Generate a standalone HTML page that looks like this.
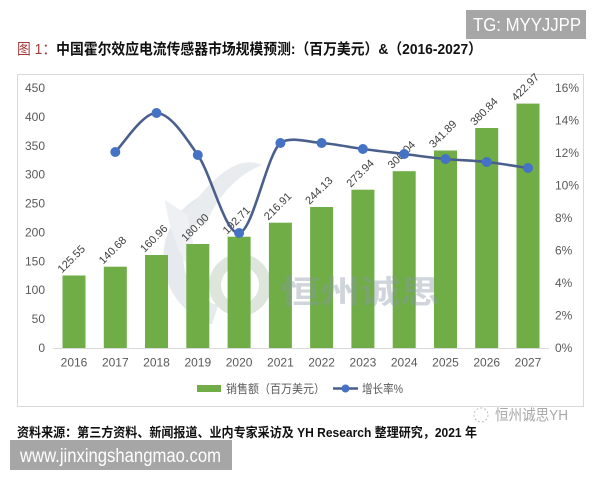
<!DOCTYPE html>
<html><head><meta charset="utf-8">
<style>
html,body{margin:0;padding:0;background:#fff;}
svg{display:block;}
text{font-family:"Liberation Sans","Noto Sans CJK SC",sans-serif;}
</style></head>
<body>
<svg width="600" height="480" viewBox="0 0 600 480" xmlns="http://www.w3.org/2000/svg">
<rect x="0" y="0" width="600" height="480" fill="#fff"/>
<!-- TG box -->
<rect x="466" y="10" width="120" height="29" fill="#a6a6a6"/>
<text x="473" y="31" font-size="18" fill="#fff" textLength="108" lengthAdjust="spacingAndGlyphs">TG: MYYJJPP</text>
<!-- Title -->
<text x="17" y="54" font-size="15" font-weight="bold" textLength="465" lengthAdjust="spacingAndGlyphs"><tspan fill="#a33a3a" font-weight="normal">图 1：</tspan><tspan fill="#111">中国霍尔效应电流传感器市场规模预测:（百万美元）&amp;（2016-2027）</tspan></text>
<!-- chart frame -->
<rect x="17.5" y="74.5" width="566" height="332" fill="#fff" stroke="#d9d9d9" stroke-width="1"/>

<!-- watermark logo -->
<g opacity="0.35">
<path d="M 205 205 A 60 60 0 0 0 215 315" fill="none" stroke="#b8c1cc" stroke-width="20"/>
<path d="M 185 215 Q 230 150 262 165 Q 225 180 205 225 Z" fill="#c3cad4"/>
<path d="M 165 200 Q 172 255 212 300 Q 192 250 188 215 Z" fill="#cfd5dd"/>
<circle cx="240" cy="285" r="25" fill="none" stroke="#9fb7a0" stroke-width="12"/>
</g>

<!-- axis line -->
<line x1="53" y1="348.5" x2="549" y2="348.5" stroke="#d9d9d9" stroke-width="1"/>

<!-- bars -->
<g fill="#70ad47">
<rect x="62.5" y="275.5" width="23" height="72.5"/>
<rect x="103.8" y="266.7" width="23" height="81.3"/>
<rect x="145" y="255" width="23" height="93"/>
<rect x="186.3" y="244" width="23" height="104"/>
<rect x="227.6" y="236.7" width="23" height="111.3"/>
<rect x="268.9" y="222.7" width="23" height="125.3"/>
<rect x="310.1" y="207" width="23" height="141"/>
<rect x="351.4" y="189.7" width="23" height="158.3"/>
<rect x="392.7" y="171.2" width="23" height="176.8"/>
<rect x="434" y="150.5" width="23" height="197.5"/>
<rect x="475.2" y="128" width="23" height="220"/>
<rect x="516.5" y="103.6" width="23" height="244.4"/>
</g>

<!-- watermark text -->
<text x="280" y="303" font-size="32" font-weight="bold" fill="#8a98a6" opacity="0.4" textLength="160" lengthAdjust="spacingAndGlyphs">恒州诚思</text>

<!-- data labels -->
<g font-size="11" fill="#404040">
<text x="62" y="273.5" transform="rotate(-45 62 273.5)">125.55</text>
<text x="103.3" y="264.7" transform="rotate(-45 103.3 264.7)">140.68</text>
<text x="144.5" y="253" transform="rotate(-45 144.5 253)">160.96</text>
<text x="185.8" y="242" transform="rotate(-45 185.8 242)">180.00</text>
<text x="227.1" y="234.7" transform="rotate(-45 227.1 234.7)">192.71</text>
<text x="268.4" y="220.7" transform="rotate(-45 268.4 220.7)">216.91</text>
<text x="309.6" y="205" transform="rotate(-45 309.6 205)">244.13</text>
<text x="350.9" y="187.7" transform="rotate(-45 350.9 187.7)">273.94</text>
<text x="392.2" y="169.2" transform="rotate(-45 392.2 169.2)">306.04</text>
<text x="433.5" y="148.5" transform="rotate(-45 433.5 148.5)">341.89</text>
<text x="474.7" y="126" transform="rotate(-45 474.7 126)">380.84</text>
<text x="516" y="101.6" transform="rotate(-45 516 101.6)">422.97</text>
</g>

<!-- line -->
<path d="M115.3 152 C122.2 145.5 142.75 112.5 156.5 113 C170.25 113.5 184.03 135 197.8 155 C211.57 175 225.33 235 239.1 233 C252.87 231 266.65 155 280.4 143 C290 136 307.85 142 321.6 143 C335.35 144 349.13 147.17 362.9 149 C376.67 150.83 390.43 152.33 404.2 154 C417.97 155.67 431.75 157.67 445.5 159 C459.25 160.33 472.95 160.5 486.7 162 C500.45 163.5 521.12 167 528 168" fill="none" stroke="#4a5f8c" stroke-width="2.6"/>
<g fill="#4472c4">
<circle cx="115.3" cy="152" r="5"/>
<circle cx="156.5" cy="113" r="5"/>
<circle cx="197.8" cy="155" r="5"/>
<circle cx="239.1" cy="233" r="5"/>
<circle cx="280.4" cy="143" r="5"/>
<circle cx="321.6" cy="143" r="5"/>
<circle cx="362.9" cy="149" r="5"/>
<circle cx="404.2" cy="154" r="5"/>
<circle cx="445.5" cy="159" r="5"/>
<circle cx="486.7" cy="162" r="5"/>
<circle cx="528" cy="168" r="5"/>
</g>

<!-- left axis labels -->
<g font-size="12" fill="#595959" text-anchor="end">
<text x="45" y="92">450</text>
<text x="45" y="121">400</text>
<text x="45" y="149.8">350</text>
<text x="45" y="178.7">300</text>
<text x="45" y="207.6">250</text>
<text x="45" y="236.4">200</text>
<text x="45" y="265.3">150</text>
<text x="45" y="294.2">100</text>
<text x="45" y="323.1">50</text>
<text x="45" y="352">0</text>
</g>
<!-- right axis labels -->
<g font-size="12" fill="#595959">
<text x="555" y="92">16%</text>
<text x="555" y="124.5">14%</text>
<text x="555" y="157">12%</text>
<text x="555" y="189.5">10%</text>
<text x="555" y="222">8%</text>
<text x="555" y="254.5">6%</text>
<text x="555" y="287">4%</text>
<text x="555" y="319.5">2%</text>
<text x="555" y="352">0%</text>
</g>
<!-- years -->
<g font-size="12" fill="#595959" text-anchor="middle">
<text x="74" y="366.5">2016</text>
<text x="115.3" y="366.5">2017</text>
<text x="156.5" y="366.5">2018</text>
<text x="197.8" y="366.5">2019</text>
<text x="239.1" y="366.5">2020</text>
<text x="280.4" y="366.5">2021</text>
<text x="321.6" y="366.5">2022</text>
<text x="362.9" y="366.5">2023</text>
<text x="404.2" y="366.5">2024</text>
<text x="445.5" y="366.5">2025</text>
<text x="486.7" y="366.5">2026</text>
<text x="528" y="366.5">2027</text>
</g>
<!-- legend -->
<rect x="197" y="385" width="24" height="7" fill="#70ad47"/>
<text x="226" y="393" font-size="12" fill="#595959" textLength="99" lengthAdjust="spacingAndGlyphs">销售额（百万美元）</text>
<line x1="333" y1="388.5" x2="358" y2="388.5" stroke="#4a5f8c" stroke-width="2.6"/>
<circle cx="345.5" cy="388.5" r="4" fill="#4472c4"/>
<text x="362" y="393" font-size="12" fill="#595959" textLength="41" lengthAdjust="spacingAndGlyphs">增长率%</text>

<!-- bottom right watermark -->
<circle cx="481" cy="415" r="7" fill="none" stroke="#c0c0c0" stroke-width="1" stroke-dasharray="2 2"/>
<text x="495" y="420" font-size="15" fill="#a8a8a8" textLength="73" lengthAdjust="spacingAndGlyphs">恒州诚思YH</text>

<!-- source -->
<text x="17" y="437" font-size="13" font-weight="bold" fill="#111" font-family="'Liberation Serif','Noto Serif CJK SC',serif" textLength="460" lengthAdjust="spacingAndGlyphs">资料来源：第三方资料、新闻报道、业内专家采访及 YH Research 整理研究，2021 年</text>

<!-- website box -->
<rect x="10" y="440" width="222" height="30" fill="#a6a6a6"/>
<text x="20" y="462" font-size="19" fill="#fff" textLength="201" lengthAdjust="spacingAndGlyphs">www.jinxingshangmao.com</text>
</svg>
</body></html>
